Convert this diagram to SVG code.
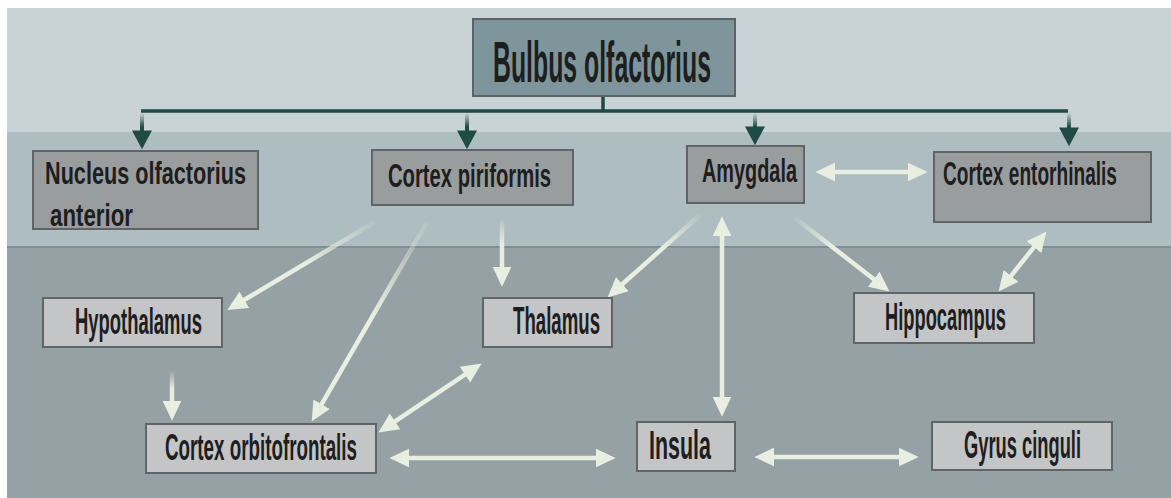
<svg xmlns="http://www.w3.org/2000/svg" width="1171" height="498" viewBox="0 0 1171 498">
  <style>
    .lbl { font-family: "Liberation Sans Narrow", "Liberation Sans", Arial, sans-serif; font-weight: bold; fill: #1e1e1e; }
    .top { fill: #9a9d9e; stroke: #5f6567; stroke-width: 2; }
    .low { fill: #c4c5c7; stroke: #5f6567; stroke-width: 2; }
    .lt { stroke-width: 4.5; fill: none; }
    .solid { stroke: #e8eee0; }
    .dk { stroke: url(#gDk); stroke-width: 4; fill: none; }
  </style>
  <defs>
    <marker id="hl" markerUnits="userSpaceOnUse" markerWidth="20" markerHeight="20" viewBox="0 0 19 18" refX="6" refY="9" orient="auto-start-reverse">
      <path d="M0,0 L19,9 L0,18 z" fill="#e8eee0"/>
    </marker>
    <marker id="hd" markerUnits="userSpaceOnUse" markerWidth="20" markerHeight="20" viewBox="0 0 17 18" refX="5" refY="9" orient="auto">
      <path d="M0,0 L17,9 L0,18 z" fill="#1f4a45"/>
    </marker>
    <linearGradient id="gDk" gradientUnits="userSpaceOnUse" x1="0" y1="113" x2="0" y2="127">
      <stop offset="0" stop-color="#1f4a45" stop-opacity="0"/>
      <stop offset="1" stop-color="#1f4a45"/>
    </linearGradient>
    <linearGradient id="g1" gradientUnits="userSpaceOnUse" x1="375" y1="222" x2="239" y2="303">
      <stop offset="0" stop-color="#e8eee0" stop-opacity="0.1"/>
      <stop offset="0.5" stop-color="#e8eee0"/>
    </linearGradient>
    <linearGradient id="g2" gradientUnits="userSpaceOnUse" x1="427" y1="222" x2="318.5" y2="409.7">
      <stop offset="0" stop-color="#e8eee0" stop-opacity="0.1"/>
      <stop offset="0.5" stop-color="#e8eee0"/>
    </linearGradient>
    <linearGradient id="g3" gradientUnits="userSpaceOnUse" x1="0" y1="220" x2="0" y2="273">
      <stop offset="0" stop-color="#e8eee0" stop-opacity="0.1"/>
      <stop offset="0.45" stop-color="#e8eee0"/>
    </linearGradient>
    <linearGradient id="g4" gradientUnits="userSpaceOnUse" x1="0" y1="372" x2="0" y2="407">
      <stop offset="0" stop-color="#e8eee0" stop-opacity="0.1"/>
      <stop offset="0.5" stop-color="#e8eee0"/>
    </linearGradient>
    <linearGradient id="g9" gradientUnits="userSpaceOnUse" x1="700" y1="215" x2="617.7" y2="288.3">
      <stop offset="0" stop-color="#e8eee0" stop-opacity="0.1"/>
      <stop offset="0.45" stop-color="#e8eee0"/>
    </linearGradient>
    <linearGradient id="g10" gradientUnits="userSpaceOnUse" x1="795" y1="218" x2="878.7" y2="283">
      <stop offset="0" stop-color="#e8eee0" stop-opacity="0.1"/>
      <stop offset="0.45" stop-color="#e8eee0"/>
    </linearGradient>
  </defs>

  <!-- background bands -->
  <rect x="0" y="0" width="1171" height="498" fill="#ffffff"/>
  <rect x="7" y="8" width="1164" height="124" fill="#c9d3d6"/>
  <rect x="7" y="132" width="1164" height="115" fill="#adbdc2"/>
  <rect x="7" y="247" width="1164" height="251" fill="#96a1a5"/>
  <rect x="7" y="246" width="1164" height="2" fill="#7e9095"/>

  <!-- connectors -->
  <g id="connectors">
    <!-- tree from the bulb -->
    <path d="M603,96 V111" stroke="#1f4a45" stroke-width="3.5"/>
    <path d="M141,111 H1068" stroke="#1f4a45" stroke-width="3.5"/>
    <path d="M142,113 V136" class="dk" marker-end="url(#hd)"/>
    <path d="M467,113 V136" class="dk" marker-end="url(#hd)"/>
    <path d="M755,113 V132" class="dk" marker-end="url(#hd)"/>
    <path d="M1069,113 V133" class="dk" marker-end="url(#hd)"/>

    <!-- light pathways -->
    <path d="M375,222 L239,303" class="lt" style="stroke:url(#g1)" marker-end="url(#hl)"/>
    <path d="M427,222 L318.5,409.7" class="lt" style="stroke:url(#g2)" marker-end="url(#hl)"/>
    <path d="M502,220 V273" class="lt" style="stroke:url(#g3)" marker-end="url(#hl)"/>
    <path d="M172,372 V407" class="lt" style="stroke:url(#g4)" marker-end="url(#hl)"/>
    <path d="M389.8,424.8 L470.2,371.2" class="lt solid" marker-start="url(#hl)" marker-end="url(#hl)"/>
    <path d="M403,458 H602" class="lt solid" marker-start="url(#hl)" marker-end="url(#hl)"/>
    <path d="M768,457 H905" class="lt solid" marker-start="url(#hl)" marker-end="url(#hl)"/>
    <path d="M722,230 V403" class="lt solid" marker-start="url(#hl)" marker-end="url(#hl)"/>
    <path d="M700,215 L617.7,288.3" class="lt" style="stroke:url(#g9)" marker-end="url(#hl)"/>
    <path d="M795,218 L878.7,283" class="lt" style="stroke:url(#g10)" marker-end="url(#hl)"/>
    <path d="M1007.1,280.8 L1037.9,242.2" class="lt solid" marker-start="url(#hl)" marker-end="url(#hl)"/>
    <path d="M829,172 H914" class="lt solid" marker-start="url(#hl)" marker-end="url(#hl)"/>
  </g>

  <!-- nodes -->
  <g id="bulbus">
    <rect x="473" y="19" width="262" height="77" fill="#7e959b" stroke="#5d6467" stroke-width="2"/>
    <text class="lbl" x="493" y="82" font-size="58" textLength="218" lengthAdjust="spacingAndGlyphs">Bulbus olfactorius</text>
  </g>
  <g id="nucleus">
    <rect class="top" x="33" y="151" width="225" height="78"/>
    <text class="lbl" x="45" y="184" font-size="32" textLength="201" lengthAdjust="spacingAndGlyphs">Nucleus olfactorius</text>
    <text class="lbl" x="50" y="226" font-size="32" textLength="83" lengthAdjust="spacingAndGlyphs">anterior</text>
  </g>
  <g id="piriformis">
    <rect class="top" x="372" y="150" width="201" height="55"/>
    <text class="lbl" x="388" y="187" font-size="33" textLength="163" lengthAdjust="spacingAndGlyphs">Cortex piriformis</text>
  </g>
  <g id="amygdala">
    <rect class="top" x="687" y="146" width="117" height="57"/>
    <text class="lbl" x="702" y="182" font-size="33" textLength="95" lengthAdjust="spacingAndGlyphs">Amygdala</text>
  </g>
  <g id="entorhinalis">
    <rect class="top" x="934" y="152" width="217" height="70"/>
    <text class="lbl" transform="translate(943,185) scale(1,1.5)" x="0" y="0" font-size="22" textLength="174" lengthAdjust="spacingAndGlyphs">Cortex entorhinalis</text>
  </g>
  <g id="hypothalamus">
    <rect class="low" x="43" y="298" width="179" height="49"/>
    <text class="lbl" x="75" y="334" font-size="37" textLength="127" lengthAdjust="spacingAndGlyphs">Hypothalamus</text>
  </g>
  <g id="thalamus">
    <rect class="low" x="483" y="298" width="129" height="49"/>
    <text class="lbl" x="513" y="334" font-size="38" textLength="87" lengthAdjust="spacingAndGlyphs">Thalamus</text>
  </g>
  <g id="hippocampus">
    <rect class="low" x="854" y="293" width="180" height="50"/>
    <text class="lbl" x="885" y="330" font-size="38" textLength="121" lengthAdjust="spacingAndGlyphs">Hippocampus</text>
  </g>
  <g id="orbitofrontalis">
    <rect class="low" x="146" y="424" width="230" height="49"/>
    <text class="lbl" x="165" y="460" font-size="36" textLength="192" lengthAdjust="spacingAndGlyphs">Cortex orbitofrontalis</text>
  </g>
  <g id="insula">
    <rect class="low" x="637" y="422" width="98" height="49"/>
    <text class="lbl" x="649" y="459" font-size="41" textLength="62" lengthAdjust="spacingAndGlyphs">Insula</text>
  </g>
  <g id="cinguli">
    <rect class="low" x="932" y="422" width="180" height="48"/>
    <text class="lbl" transform="translate(964,458) scale(1,1.52)" x="0" y="0" font-size="25" textLength="117" lengthAdjust="spacingAndGlyphs">Gyrus cinguli</text>
  </g>
</svg>
